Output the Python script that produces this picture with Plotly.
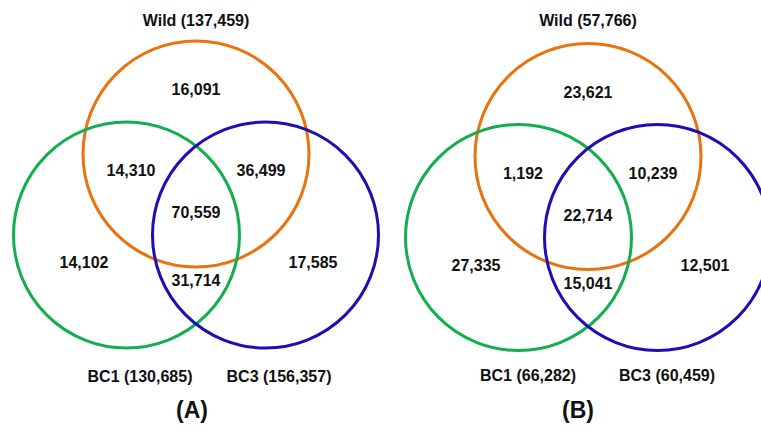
import plotly.graph_objects as go

# ---------------- data ----------------
set_names = ["Wild", "BC1", "BC3"]
panel_labels = ["(A)", "(B)"]

totals_A = [137459, 130685, 156357]
totals_B = [57766, 66282, 60459]

# region order: Wild only, Wild&BC1, Wild&BC3, all three, BC1 only, BC1&BC3, BC3 only
region_keys = ["W", "WB1", "WB3", "ALL", "B1", "B1B3", "B3"]
counts_A = [16091, 14310, 36499, 70559, 14102, 31714, 17585]
counts_B = [23621, 1192, 10239, 22714, 27335, 15041, 12501]

# ---------------- layout / style ----------------
W, H = 761, 429
R = 113
colors = ["#E8730F", "#12AE4F", "#1F0DB5"]
FONT = "Liberation Sans, Arial, Helvetica, sans-serif"

# circle centres relative to the orange (Wild) centre
circle_offsets = [(0, 0), (-69.5, 81), (69.5, 81)]
# region label offsets relative to the orange centre
region_offsets = {
    "W": (0, -63), "WB1": (-65, 18), "WB3": (65, 18), "ALL": (0, 60),
    "B1": (-112, 110), "B1B3": (0, 128), "B3": (117, 110),
}
panels = [
    dict(cx=196, cy=154, totals=totals_A, counts=counts_A, label=panel_labels[0],
         title_y=22, bc_dx=(-56, 83), label_xy=(192, 412), name_y=378),
    dict(cx=588, cy=156.5, totals=totals_B, counts=counts_B, label=panel_labels[1],
         title_y=22, bc_dx=(-60, 79), label_xy=(578, 412), name_y=377),
]

fig = go.Figure()
shapes = []
for p in panels:
    for (dx, dy), col in zip(circle_offsets, colors):
        x0 = p["cx"] + dx
        y0 = p["cy"] + dy
        shapes.append(dict(type="circle", xref="x", yref="y",
                           x0=x0 - R, x1=x0 + R, y0=y0 - R, y1=y0 + R,
                           line=dict(color=col, width=3), fillcolor="rgba(0,0,0,0)"))
    # region counts
    xs, ys, ts = [], [], []
    for key, c in zip(region_keys, p["counts"]):
        ox, oy = region_offsets[key]
        xs.append(p["cx"] + ox)
        ys.append(p["cy"] + oy)
        ts.append(f"<b>{c:,}</b>")
    fig.add_trace(go.Scatter(x=xs, y=ys, text=ts, mode="text",
                             textfont=dict(family=FONT, size=16, color="#111111"),
                             hoverinfo="skip", showlegend=False))
    # set names with totals
    nx = [p["cx"], p["cx"] + p["bc_dx"][0], p["cx"] + p["bc_dx"][1]]
    ny = [p["title_y"], p["name_y"], p["name_y"]]
    nt = [f"<b>{n} ({t:,})</b>" for n, t in zip(set_names, p["totals"])]
    fig.add_trace(go.Scatter(x=nx, y=ny, text=nt, mode="text",
                             textfont=dict(family=FONT, size=16, color="#111111"),
                             hoverinfo="skip", showlegend=False))
    # panel label
    fig.add_trace(go.Scatter(x=[p["label_xy"][0]], y=[p["label_xy"][1]],
                             text=[f"<b>{p['label']}</b>"], mode="text",
                             textfont=dict(family=FONT, size=23, color="#111111"),
                             hoverinfo="skip", showlegend=False))

fig.update_layout(
    width=W, height=H, autosize=False,
    margin=dict(l=0, r=0, t=0, b=0),
    paper_bgcolor="white", plot_bgcolor="white",
    shapes=shapes,
    xaxis=dict(range=[0, W], visible=False, fixedrange=True),
    yaxis=dict(range=[H, 0], visible=False, fixedrange=True),
)
fig.write_html(
    "out.html",
    config={"displayModeBar": False},
    post_script="document.body.style.margin='0px';document.body.style.overflow='hidden';",
)
